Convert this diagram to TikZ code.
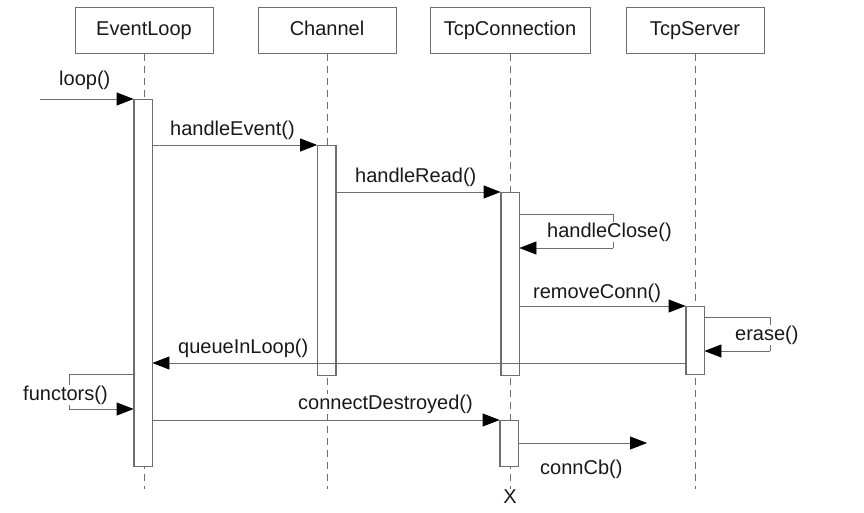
\documentclass[tikz,border=0pt]{standalone}
\usepackage{fontspec}
\setmainfont{Liberation Sans}
\usetikzlibrary{arrows.meta}
\definecolor{linegray}{RGB}{110,110,110}
\definecolor{txt}{RGB}{25,25,25}
\begin{document}
\begin{tikzpicture}[x=1pt,y=-1pt,
  every node/.style={font=\fontsize{20}{24}\selectfont, text=txt},
  object/.style={draw=linegray, line width=0.8pt, fill=white, minimum width=138pt,
    minimum height=46pt, inner sep=0pt, text height=14.5pt, text depth=4pt, anchor=north},
  lifeline/.style={draw=linegray, line width=0.8pt, dash pattern=on 7pt off 5pt},
  act/.style={draw=linegray, line width=0.8pt, fill=white, minimum width=18pt,
    inner sep=0pt, anchor=north},
  wire/.style={draw=linegray, line width=0.8pt},
  msg/.style={wire, -{Triangle[length=17pt,width=13pt,fill=black,color=black]}},
  lbl/.style={anchor=base west, inner sep=1pt, fill=white}]
\useasboundingbox (0,0) rectangle (864,512);
\fill[white] (0,0) rectangle (864,512);

% participants
\node[object] (el) at (144,7) {EventLoop};
\node[object] (ch) at (327,7) {Channel};
\node[object, minimum width=160pt] (tc) at (510,7) {TcpConnection};
\node[object] (ts) at (695,7) {TcpServer};

% lifeline ends
\coordinate (elend) at (144,489);
\coordinate (chend) at (327,489);
\coordinate (tsend) at (695,489);
\node[anchor=base, inner sep=0pt] (kill) at (510,503) {X};

\draw[lifeline] (el.south) -- (elend);
\draw[lifeline] (ch.south) -- (chend);
\draw[lifeline] (tc.south) -- (kill.north);
\draw[lifeline] (ts.south) -- (tsend);

% activation bars
\node[act, minimum height=367pt] (elact) at (143,99) {};
\node[act, minimum height=230pt] (chact) at (326.5,145) {};
\node[act, minimum height=183pt] (tcact) at (510,192) {};
\node[act, minimum height=68pt]  (tsact) at (695,306) {};
\node[act, minimum height=46pt]  (tcact2) at (509,420) {};

% message levels
\coordinate (start) at (40,99);
\coordinate (yhc1) at (0,214);
\coordinate (yhc2) at (0,248);
\coordinate (hcA) at (613,214);
\coordinate (hcB) at (613,248);
\coordinate (yer1) at (0,317);
\coordinate (yer2) at (0,351);
\coordinate (erA) at (770,317);
\coordinate (erB) at (770,351);
\coordinate (yq) at (0,363);
\coordinate (yf1) at (0,374);
\coordinate (yf2) at (0,409);
\coordinate (fnA) at (69,374);
\coordinate (fnB) at (69,409);
\coordinate (ycb) at (0,443);
\coordinate (cbend) at (647,443);

% messages
\draw[msg] (start) -- (elact.north west);
\draw[msg] (elact.east |- chact.north) -- (chact.north west);
\draw[msg] (chact.east |- tcact.north) -- (tcact.north west);
\draw[wire] (tcact.east |- yhc1) -- (hcA) -- (hcB);
\draw[msg] (hcB) -- (tcact.east |- yhc2);
\draw[msg] (tcact.east |- tsact.north) -- (tsact.north west);
\draw[wire] (tsact.east |- yer1) -- (erA) -- (erB);
\draw[msg] (erB) -- (tsact.east |- yer2);
\draw[msg] (tsact.west |- yq) -- (elact.east |- yq);
\draw[wire] (elact.west |- yf1) -- (fnA) -- (fnB);
\draw[msg] (fnB) -- (elact.west |- yf2);
\draw[msg] (elact.east |- tcact2.north) -- (tcact2.north west);
\draw[msg] (tcact2.east |- ycb) -- (cbend);

% redraw bars over the horizontal lines
\foreach \b in {elact,chact,tcact,tsact,tcact2}
  \draw[linegray, line width=0.8pt] (\b.north west) rectangle (\b.south east);

% message labels
\node[lbl] (l1) at (58,85) {loop()};
\node[lbl] (l2) at (169,135) {handleEvent()};
\node[lbl] (l3) at (354,182) {handleRead()};
\node[lbl] (l4) at (546,237) {handleClose()};
\node[lbl] (l5) at (532,298) {removeConn()};
\node[lbl] (l6) at (734,340) {erase()};
\node[lbl] (l7) at (177,353) {queueInLoop()};
\node[lbl] (l8) at (22,400) {functors()};
\node[lbl] (l9) at (297,409) {connectDestroyed()};
\node[lbl] (l10) at (539,474) {connCb()};
\end{tikzpicture}
\end{document}
